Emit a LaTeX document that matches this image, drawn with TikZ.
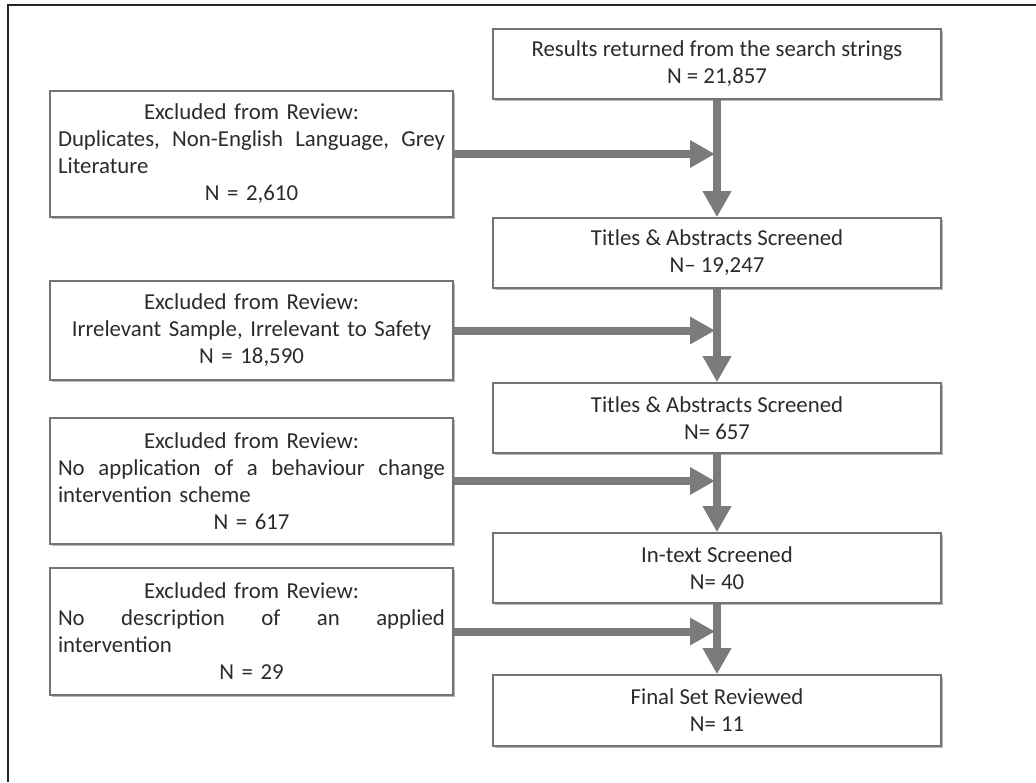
\documentclass[tikz,border=0pt]{standalone}
\usepackage{fontspec}
\setmainfont{Carlito}
\usetikzlibrary{arrows.meta,shadows}
\definecolor{boxline}{HTML}{747474}
\definecolor{flow}{HTML}{7B7B7B}
\definecolor{ink}{HTML}{2B2B2B}
\newlength\exclw
\setlength\exclw{387pt}
% a line spread over the full width of an exclusion box
\newcommand\exclfull[1]{\makebox[\exclw]{#1}}
\newcommand\exclleft[1]{\makebox[\exclw][l]{#1}}
\begin{document}
\begin{tikzpicture}[x=1pt,y=-1pt,
  boxbase/.style={draw=boxline, line width=1.6pt, fill=white, inner sep=0pt,
    text=ink, font=\fontsize{22.8}{27}\selectfont,
    drop shadow={shadow xshift=1.6pt, shadow yshift=-1.6pt, fill=black!28, opacity=1}},
  stagebox/.style={boxbase, minimum width=448pt, minimum height=70pt, align=center},
  exclbox/.style={boxbase, minimum width=403pt, text width=\exclw, align=center},
  flowarrow/.style={draw=flow, line width=8.5pt,
    -{Triangle[width=27pt,length=26pt]}, fill=flow},
  sidearrow/.style={draw=flow, line width=8pt,
    -{Triangle[width=26pt,length=25pt]}, fill=flow, shorten >=2pt}
]
\useasboundingbox (0,0) rectangle (1036,782);

% frame (only the top and left sides fall inside the picture)
\draw[line width=2pt, draw=black!85] (1036,4.5) -- (7.5,4.5) -- (7.5,782);

% main flow of records
\node[stagebox] (res)  at (717,64)    {Results returned from the search strings\\N = 21,857};
\node[stagebox] (ta1)  at (717,253)   {Titles \& Abstracts Screened\\N– 19,247};
\node[stagebox] (ta2)  at (717,418)   {Titles \& Abstracts Screened\\N= 657};
\node[stagebox] (itx)  at (717,568)   {In-text Screened\\N= 40};
\node[stagebox, minimum height=71pt] (fin) at (717,710.5) {Final Set Reviewed\\N= 11};

% exclusions
\node[exclbox, minimum height=126pt] (ex1) at (251.5,154) {Excluded from Review:\\
  \exclfull{Duplicates,\hfill Non-English\hfill Language,\hfill Grey}\\
  \exclleft{Literature}\\
  N = 2,610};
\node[exclbox, minimum height=99pt] (ex2) at (251.5,330.5) {Excluded from Review:\\
  Irrelevant Sample, Irrelevant to Safety\\
  N = 18,590};
\node[exclbox, minimum height=126pt] (ex3) at (251.5,481) {Excluded from Review:\\
  \exclfull{No\hfill application\hfill of\hfill a\hfill behaviour\hfill change}\\
  \exclleft{intervention scheme}\\
  N = 617};
\node[exclbox, minimum height=127pt] (ex4) at (251.5,631.5) {Excluded from Review:\\
  \exclfull{No\hfill description\hfill of\hfill an\hfill applied}\\
  \exclleft{intervention}\\
  N = 29};

% exclusion arrows joining the main flow
\draw[sidearrow] (ex1.east) -- (ex1.east -| res.south);
\draw[sidearrow] (ex2.east) -- (ex2.east -| res.south);
\draw[sidearrow] (ex3.east) -- (ex3.east -| res.south);
\draw[sidearrow] (ex4.east) -- (ex4.east -| res.south);

% main flow arrows
\draw[flowarrow] (res.south) -- (ta1.north);
\draw[flowarrow] (ta1.south) -- (ta2.north);
\draw[flowarrow] (ta2.south) -- (itx.north);
\draw[flowarrow] (itx.south) -- (fin.north);
\end{tikzpicture}
\end{document}
